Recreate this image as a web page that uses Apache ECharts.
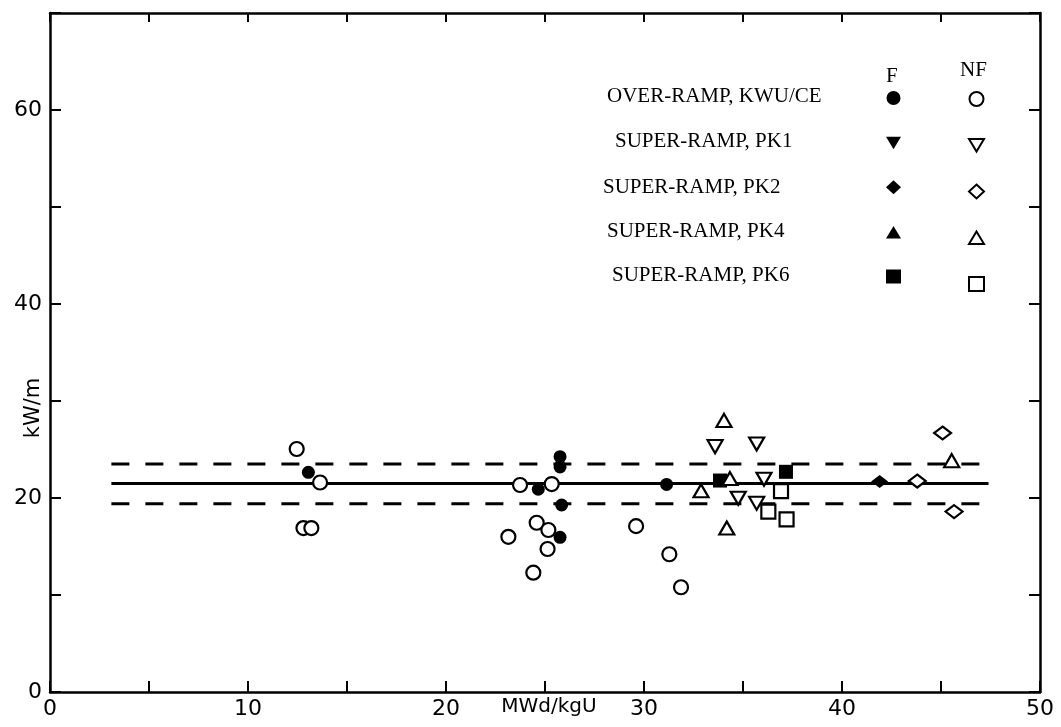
<!DOCTYPE html>
<html>
<head>
<meta charset="utf-8">
<script src="https://cdn.jsdelivr.net/npm/echarts@6/dist/echarts.min.js"></script>
<style>
  html, body { margin: 0; padding: 0; background: #fff; }
  #main { width: 1061px; height: 727px; }
</style>
</head>
<body>
<div id="main"></div>
<script>
// burnup (MWd/kgU), linear power (kW/m)
var kwuF  = [[13.05,22.65],[25.76,24.26],[25.76,23.2],[24.66,20.9],[25.84,19.28],[25.76,15.95],[31.14,21.4]];
var kwuNF = [[12.46,25.05],[13.64,21.6],[12.8,16.9],[13.2,16.9],[23.74,21.34],[25.34,21.44],[24.58,17.45],
             [25.17,16.7],[23.15,16.0],[25.13,14.74],[24.41,12.3],[29.6,17.1],[31.28,14.2],[31.87,10.8]];
var pk1F  = [];
var pk1NF = [[33.59,25.3],[35.69,25.57],[34.76,19.97],[35.69,19.45],[36.06,21.93]];
var pk2F  = [[41.9,21.7]];
var pk2NF = [[43.8,21.75],[45.08,26.7],[45.66,18.6]];
var pk4F  = [];
var pk4NF = [[34.04,28.0],[32.88,20.75],[34.34,22.0],[34.18,16.9],[45.54,23.85]];
var pk6F  = [[33.84,21.8],[37.17,22.7]];
var pk6NF = [[36.92,20.7],[36.28,18.6],[37.2,17.8]];

var meanLine  = [[3.1,21.5],[47.4,21.5]];
var upperLine = [[3.1,23.5],[47.5,23.5]];
var lowerLine = [[3.1,19.4],[47.5,19.4]];

var rowLabels = ['OVER-RAMP, KWU/CE','SUPER-RAMP, PK1','SUPER-RAMP, PK2','SUPER-RAMP, PK4','SUPER-RAMP, PK6'];
var xLabels = [0,10,20,30,40,50];
var yLabels = [0,20,40,60];

var downTri = 'path://M0,0 L12,0 L6,10 Z';
var upTri = 'path://M6,0 L12,10 L0,10 Z';

var chart = echarts.init(document.getElementById('main'));

function filled(name, data, symbol, size) {
  return { name: name, type: 'scatter', data: data, symbol: symbol, symbolSize: size,
           itemStyle: { color: '#000', borderColor: '#000', borderWidth: 0, opacity: 1 }, z: 4 };
}
function hollow(name, data, symbol, size) {
  return { name: name, type: 'scatter', data: data, symbol: symbol, symbolSize: size,
           itemStyle: { color: '#fff', borderColor: '#000', borderWidth: 2.2, opacity: 1 }, z: 5 };
}
function refLine(data, dash) {
  return { type: 'line', data: data, symbol: 'none', silent: true, z: 2,
           lineStyle: { color: '#000', width: 3, type: dash ? [18, 16] : 'solid' } };
}

var fNames = ['kwuF','pk1F','pk2F','pk4F','pk6F'];
var nfNames = ['kwuNF','pk1NF','pk2NF','pk4NF','pk6NF'];

var graphics = rowLabels.map(function (t, i) {
  var xs = [607, 615, 603, 607, 612];
  var ys = [98, 143, 189, 233, 277];
  return { type: 'text', left: xs[i], top: ys[i] - 12,
           style: { text: t, font: '21px "Liberation Serif"', fill: '#000' } };
});
graphics.push({ type: 'text', left: 886, top: 66, style: { text: 'F', font: '21px "Liberation Serif"', fill: '#000' } });
graphics.push({ type: 'text', left: 960, top: 60, style: { text: 'NF', font: '21px "Liberation Serif"', fill: '#000' } });
graphics.push({ type: 'text', x: 34, y: 408, rotation: Math.PI / 2, originX: 0, originY: 0,
  style: { text: 'kW/m', font: '21px "DejaVu Sans"', fill: '#000', align: 'center', verticalAlign: 'middle' } });
graphics.push({ type: 'text', x: 549, y: 707,
  style: { text: 'MWd/kgU', font: '20px "DejaVu Sans"', fill: '#000', align: 'center', verticalAlign: 'middle' } });

var legendBase = { orient: 'vertical', padding: 0, itemWidth: 15, itemHeight: 14, itemGap: 31,
                   selectedMode: false, formatter: function () { return ''; } };

chart.setOption({
  animation: false,
  backgroundColor: '#fff',
  grid: { left: 50, right: 21, top: 13, bottom: 35, outerBoundsMode: 'none', containLabel: false },
  graphic: graphics,
  legend: [
    Object.assign({ left: 886, top: 91, data: fNames }, legendBase),
    Object.assign({ left: 968, top: 91, data: nfNames }, legendBase)
  ],
  xAxis: [{
    type: 'value', min: 0, max: 50, interval: 5,
    axisLine: { lineStyle: { color: '#000', width: 2.5 } },
    axisTick: { inside: true, length: 11, lineStyle: { color: '#000', width: 2 } },
    axisLabel: { color: '#000', fontFamily: 'DejaVu Sans', fontSize: 22, margin: 6,
      formatter: function (v) { return xLabels.indexOf(v) >= 0 ? String(v) : ''; } },
    splitLine: { show: false }
  }, {
    type: 'value', min: 0, max: 50, interval: 5, position: 'top',
    axisLine: { onZero: false, lineStyle: { color: '#000', width: 2.5 } },
    axisTick: { inside: true, length: 9, lineStyle: { color: '#000', width: 2 } },
    axisLabel: { show: false }, splitLine: { show: false }
  }],
  yAxis: [{
    type: 'value', min: 0, max: 70, interval: 10,
    axisLine: { show: true, lineStyle: { color: '#000', width: 2.5 } },
    axisTick: { show: true, inside: true, length: 11, lineStyle: { color: '#000', width: 2 } },
    axisLabel: { color: '#000', fontFamily: 'DejaVu Sans', fontSize: 22, margin: 8,
      formatter: function (v) { return yLabels.indexOf(v) >= 0 ? String(v) : ''; } },
    splitLine: { show: false }
  }, {
    type: 'value', min: 0, max: 70, interval: 10, position: 'right',
    axisLine: { show: true, onZero: false, lineStyle: { color: '#000', width: 2.5 } },
    axisTick: { show: true, inside: true, length: 11, lineStyle: { color: '#000', width: 2 } },
    axisLabel: { show: false }, splitLine: { show: false }
  }],
  series: [
    refLine(meanLine, false),
    refLine(upperLine, true),
    refLine(lowerLine, true),
    filled('kwuF', kwuF, 'circle', 13),
    hollow('kwuNF', kwuNF, 'circle', 14),
    filled('pk1F', pk1F, downTri, [14, 12]),
    hollow('pk1NF', pk1NF, downTri, [15, 13]),
    filled('pk2F', pk2F, 'diamond', [17, 13]),
    hollow('pk2NF', pk2NF, 'diamond', [17, 13]),
    filled('pk4F', pk4F, upTri, [14, 12]),
    hollow('pk4NF', pk4NF, upTri, [15, 13]),
    filled('pk6F', pk6F, 'rect', 14),
    hollow('pk6NF', pk6NF, 'rect', 14)
  ]
});
</script>
</body>
</html>
